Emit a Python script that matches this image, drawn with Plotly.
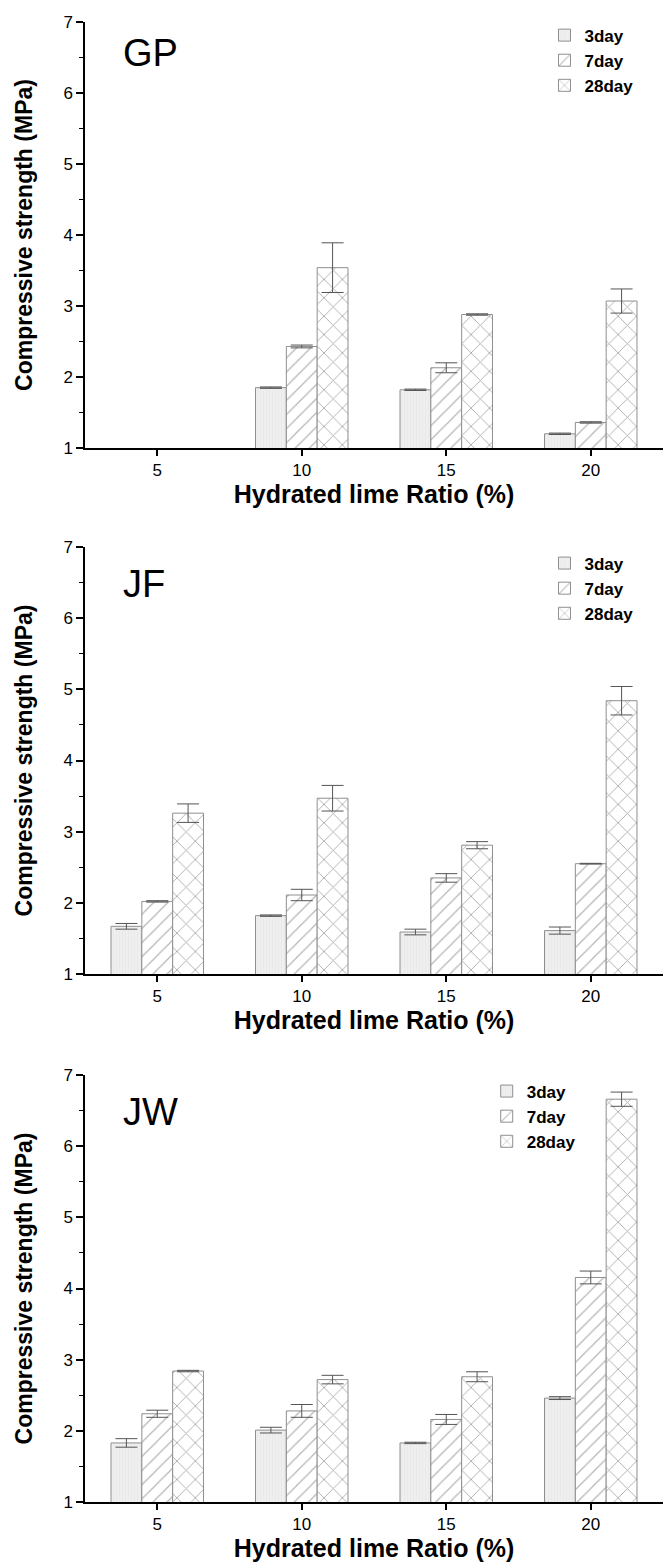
import plotly.graph_objects as go

# ---------------- data ----------------
ratios = [5, 10, 15, 20]
ages = ["3day", "7day", "28day"]
panels = ["GP", "JF", "JW"]

gp_3day = [None, 1.85, 1.82, 1.20]
gp_7day = [None, 2.43, 2.13, 1.36]
gp_28day = [None, 3.54, 2.88, 3.07]
gp_3day_err = [0, 0.01, 0.01, 0.01]
gp_7day_err = [0, 0.02, 0.07, 0.01]
gp_28day_err = [0, 0.35, 0.01, 0.17]

jf_3day = [1.67, 1.82, 1.59, 1.61]
jf_7day = [2.02, 2.11, 2.35, 2.55]
jf_28day = [3.26, 3.47, 2.81, 4.84]
jf_3day_err = [0.04, 0.01, 0.04, 0.05]
jf_7day_err = [0.01, 0.08, 0.06, 0.005]
jf_28day_err = [0.13, 0.18, 0.05, 0.20]

jw_3day = [1.83, 2.01, 1.83, 2.46]
jw_7day = [2.24, 2.28, 2.16, 4.155]
jw_28day = [2.84, 2.72, 2.76, 6.66]
jw_3day_err = [0.06, 0.04, 0.01, 0.02]
jw_7day_err = [0.05, 0.09, 0.07, 0.09]
jw_28day_err = [0.01, 0.06, 0.07, 0.10]

panel_values = {
    "GP": ([gp_3day, gp_7day, gp_28day], [gp_3day_err, gp_7day_err, gp_28day_err]),
    "JF": ([jf_3day, jf_7day, jf_28day], [jf_3day_err, jf_7day_err, jf_28day_err]),
    "JW": ([jw_3day, jw_7day, jw_28day], [jw_3day_err, jw_7day_err, jw_28day_err]),
}

# ---------------- styles ----------------
FONT = "Liberation Sans, Arial, sans-serif"
W, H = 665, 1563
M_L, M_R, M_T, M_B = 85, 2, 22, 61
plot_h = H - M_T - M_B

# pixel extents (top, bottom) of each panel's plotting area
panel_px = [(22, 448), (547, 974), (1075, 1502)]

def ydom(top, bot):
    return [(H - M_B - bot) / plot_h, (H - M_B - top) / plot_h]

bar_styles = [
    dict(color="#ededed", pattern=dict(shape="|", fgcolor="#e2e2e2", bgcolor="#efefef", size=3, solidity=0.3)),
    dict(color="white", pattern=dict(shape="/", fgcolor="#6a6a6a", bgcolor="white", size=10, solidity=0.12)),
    dict(color="white", pattern=dict(shape="x", fgcolor="#5f5f5f", bgcolor="white", size=13, solidity=0.14)),
]

legend_pos = [
    dict(x=0.795, y=ydom(*panel_px[0])[1] + 0.003),
    dict(x=0.795, y=ydom(*panel_px[1])[1] + 0.001),
    dict(x=0.695, y=ydom(*panel_px[2])[1] + 0.001),
]
label_pos = [0.928, 0.913, 0.913]

fig = go.Figure()
layout = dict(
    width=W, height=H,
    margin=dict(l=M_L, r=M_R, t=M_T, b=M_B),
    paper_bgcolor="white", plot_bgcolor="white",
    barmode="group", bargap=0.36, bargroupgap=0,
    font=dict(family=FONT, color="black"),
    annotations=[],
)

for i, name in enumerate(panels):
    sfx = "" if i == 0 else str(i + 1)
    vals, errs = panel_values[name]
    leg = "legend" + sfx
    for j, age in enumerate(ages):
        st = bar_styles[j]
        fig.add_trace(go.Bar(
            x=ratios, y=vals[j], name="<b>" + age + "</b>",
            offsetgroup=str(j),
            xaxis="x" + sfx, yaxis="y" + sfx, legend=leg,
            marker=dict(color=st["color"], pattern=st["pattern"],
                        line=dict(color="#8f8f8f", width=1)),
            error_y=dict(type="data", array=errs[j], color="#555555", thickness=1, width=11),
        ))
    top, bot = panel_px[i]
    layout["xaxis" + sfx] = dict(
        domain=[0, 1], anchor="y" + sfx, range=[2.5, 22.5],
        tickvals=ratios, ticks="outside", ticklen=6, tickwidth=1.5, tickcolor="black",
        showline=True, linecolor="black", linewidth=1.5,
        showgrid=False, zeroline=False,
        tickfont=dict(size=17, family=FONT, color="black"),
        title=dict(text="<b>Hydrated lime Ratio (%)</b>", font=dict(size=25, family=FONT, color="black"), standoff=2),
    )
    layout["yaxis" + sfx] = dict(
        domain=ydom(top, bot), anchor="x" + sfx, range=[1, 7],
        tick0=1, dtick=1, ticks="outside", ticklen=7, tickwidth=1.5, tickcolor="black",
        minor=dict(dtick=0.5, ticks="outside", ticklen=4, tickcolor="black", tickwidth=1.2),
        showline=True, linecolor="black", linewidth=1.5,
        showgrid=False, zeroline=False,
        tickfont=dict(size=17, family=FONT, color="black"),
        title=dict(text="<b>Compressive strength (MPa)</b>", font=dict(size=23, family=FONT, color="black"), standoff=24),
    )
    layout[leg] = dict(
        x=legend_pos[i]["x"], y=legend_pos[i]["y"], xanchor="left", yanchor="top",
        bgcolor="rgba(0,0,0,0)", traceorder="normal",
        font=dict(size=17, family=FONT, color="black"),
        tracegroupgap=0,
    )
    layout["annotations"].append(dict(
        text=name, xref="x" + sfx + " domain", yref="y" + sfx + " domain",
        x=0.062, y=label_pos[i], xanchor="left", yanchor="middle",
        showarrow=False, font=dict(size=38, family=FONT, color="black"),
    ))

fig.update_layout(**layout)
fig.write_html("out.html")
